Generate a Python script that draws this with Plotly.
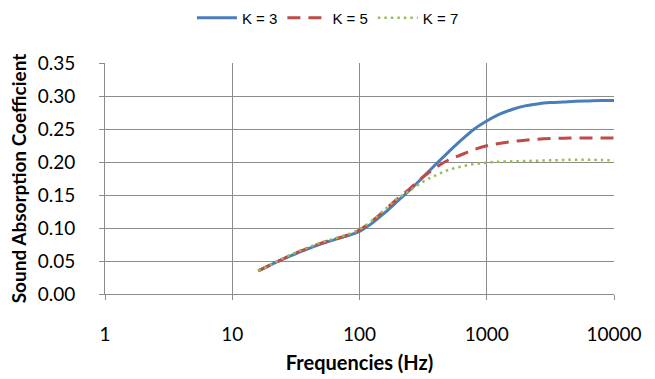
import plotly.graph_objects as go

freq = [16, 20, 25, 31.5, 40, 50, 63, 80, 100, 125, 160, 200, 250, 315, 400,
        500, 630, 800, 1000, 1250, 1600, 2000, 2500, 3150, 4000, 5000, 6300,
        8000, 10000]

k3 = [0.035, 0.044, 0.053, 0.061, 0.069, 0.076, 0.082, 0.088, 0.095, 0.107,
      0.124, 0.141, 0.158, 0.177, 0.197, 0.215, 0.233, 0.250, 0.262, 0.272,
      0.280, 0.285, 0.288, 0.290, 0.291, 0.292, 0.2925, 0.293, 0.293]

k5 = [0.035, 0.044, 0.053, 0.062, 0.070, 0.077, 0.083, 0.089, 0.097, 0.110,
      0.128, 0.145, 0.160, 0.177, 0.192, 0.203, 0.211, 0.219, 0.2245, 0.228,
      0.231, 0.233, 0.2345, 0.2355, 0.236, 0.2365, 0.2365, 0.2365, 0.2365]

k7 = [0.035, 0.044, 0.054, 0.063, 0.071, 0.078, 0.084, 0.090, 0.098, 0.111,
      0.129, 0.145, 0.157, 0.170, 0.180, 0.188, 0.193, 0.197, 0.199, 0.2005,
      0.201, 0.2015, 0.202, 0.2025, 0.203, 0.2035, 0.2035, 0.203, 0.2025]

names = ["K = 3", "K = 5", "K = 7"]
x_ticks = [1, 10, 100, 1000, 10000]
x_tick_text = ["1", "10", "100", "1000", "10000"]

fig = go.Figure()
fig.add_trace(go.Scatter(x=freq, y=k3, name=names[0], mode="lines",
                         line=dict(color="#4a7ebb", width=3, shape="spline")))
fig.add_trace(go.Scatter(x=freq, y=k5, name=names[1], mode="lines",
                         line=dict(color="#be4b48", width=3, dash="13px,8px",
                                   shape="spline")))
fig.add_trace(go.Scatter(x=freq, y=k7, name=names[2], mode="lines",
                         line=dict(color="#9bbb59", width=2.5, dash="2.5px,4px",
                                   shape="spline")))

grid = "#8c8c8c"
fig.update_layout(
    width=655, height=379,
    margin=dict(l=105, r=41, t=63, b=85, autoexpand=False),
    paper_bgcolor="white", plot_bgcolor="white",
    font=dict(family="Lato", size=19, color="#000000"),
    legend=dict(orientation="h", x=0.438, xanchor="center", y=1.195,
                yanchor="middle", font=dict(family="Liberation Sans", size=15),
                itemwidth=40, tracegroupgap=0),
    xaxis=dict(type="log", range=[0, 4], tickvals=x_ticks, ticktext=x_tick_text,
               showgrid=True, gridcolor=grid, gridwidth=1,
               showline=True, linecolor=grid, linewidth=1,
               ticks="outside", ticklen=5, tickcolor=grid,
               ticklabelstandoff=18, zeroline=False,
               title=dict(text="<b>Frequencies (Hz)</b>", standoff=12,
                          font=dict(family="Lato", size=20))),
    yaxis=dict(range=[0, 0.35], dtick=0.05, tickformat=".2f",
               showgrid=True, gridcolor=grid, gridwidth=1,
               showline=True, linecolor=grid, linewidth=1,
               ticks="outside", ticklen=5, tickcolor=grid,
               ticklabelstandoff=20, zeroline=False,
               title=dict(text="<b>Sound Absorption Coefficient</b>", standoff=6,
                          font=dict(family="Lato", size=19))),
)

fig.write_html("out.html")
